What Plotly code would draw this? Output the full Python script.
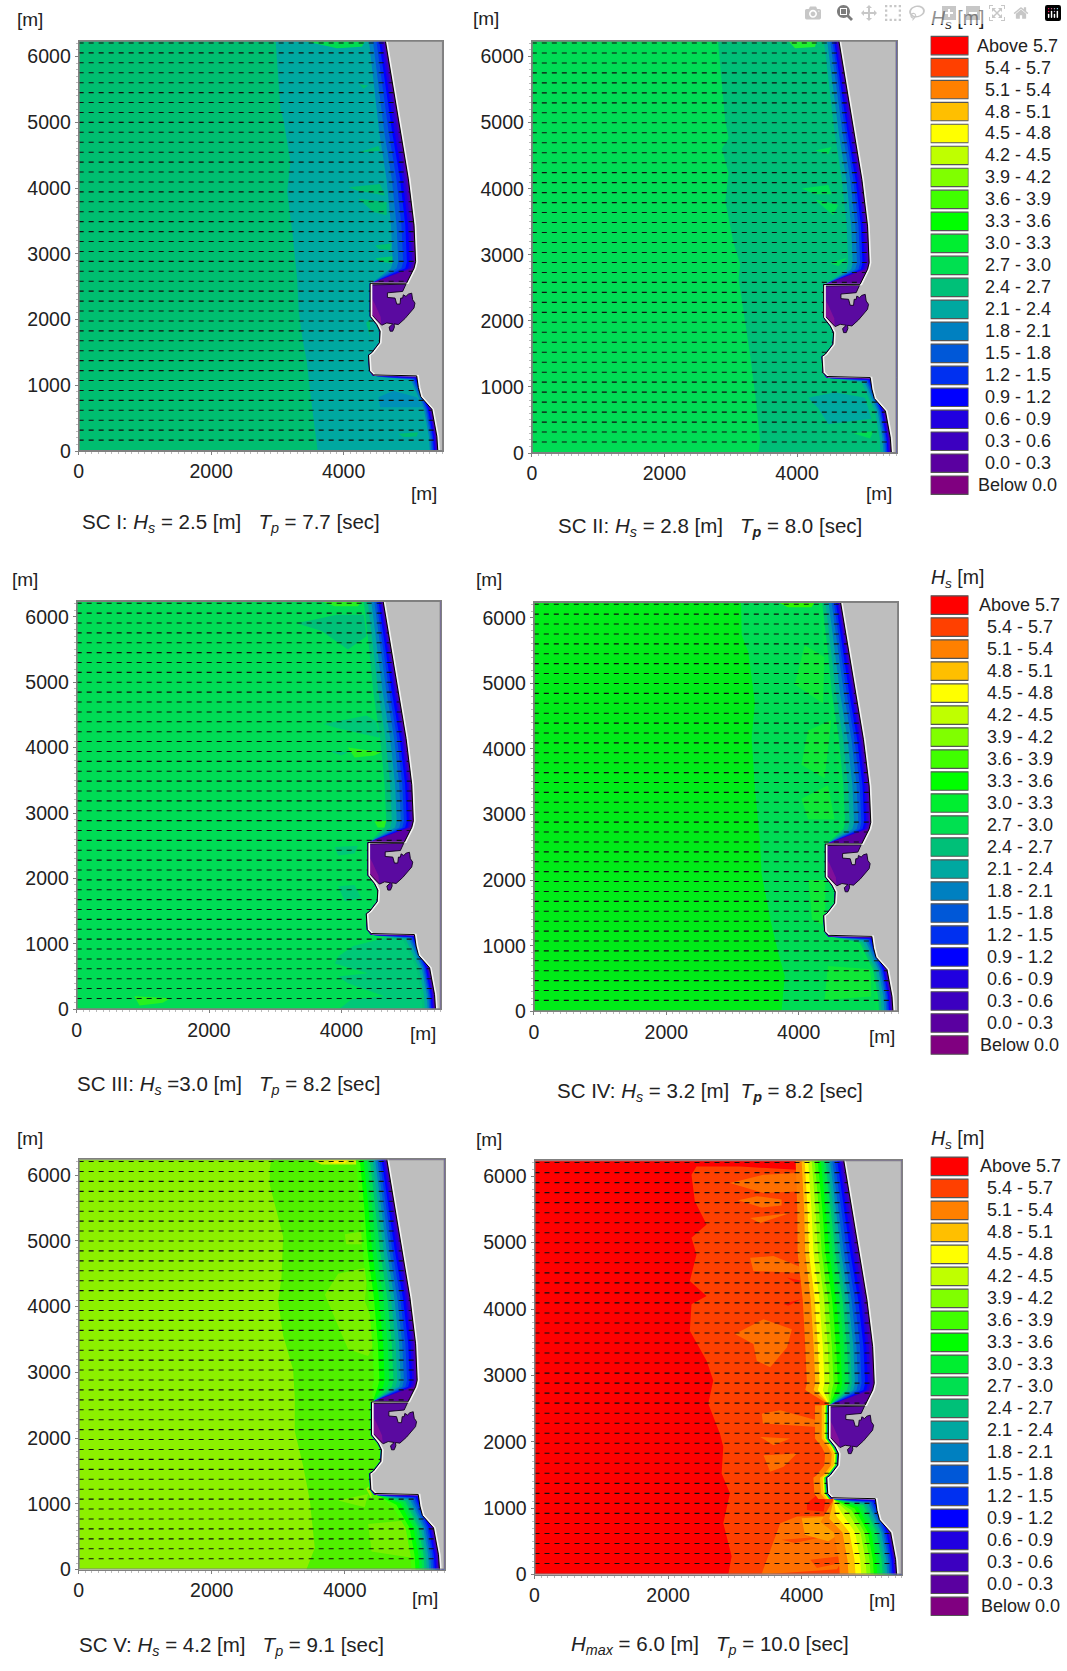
import numpy as np
import plotly.graph_objects as go

FIG_W, FIG_H = 1067, 1671
FONT = "Liberation Sans"
TEXT = "#222222"
X_MAX, Y_MAX = 5500, 6240

# ---- legend ----
LEGEND_LABELS = ["Above 5.7", "5.4 - 5.7", "5.1 - 5.4", "4.8 - 5.1", "4.5 - 4.8", "4.2 - 4.5", "3.9 - 4.2",
                 "3.6 - 3.9", "3.3 - 3.6", "3.0 - 3.3", "2.7 - 3.0", "2.4 - 2.7", "2.1 - 2.4", "1.8 - 2.1",
                 "1.5 - 1.8", "1.2 - 1.5", "0.9 - 1.2", "0.6 - 0.9", "0.3 - 0.6", "0.0 - 0.3", "Below 0.0"]
LEGEND_COLORS = ["#FF0000", "#FF4000", "#FF8000", "#FFBF00", "#FFFF00", "#BFFF00", "#80FF00",
                 "#40FF00", "#00FF00", "#00EE30", "#00E050", "#00C078", "#00A8A0", "#0080C0",
                 "#0058D8", "#0030F0", "#0000FF", "#2000E0", "#3C00C0", "#5A00A0", "#800080"]
COL = dict(zip(LEGEND_LABELS, LEGEND_COLORS))

# ---- coast (shared geometry, metres) ----
COAST_X = [4630, 4752, 4852, 4977, 5063, 5087, 5063, 4950, 4401, 4401, 4501, 4551, 4541, 4426, 4376, 4391, 4451,
           5103, 5128, 5165, 5332, 5407, 5422]
COAST_Y = [6240, 5498, 4848, 4139, 3434, 2880, 2780, 2552, 2550, 2049, 1923, 1822, 1646, 1495, 1460, 1218, 1158,
           1143, 967, 825, 635, 225, 0]
HARBOUR_X = [4421, 4942, 4892, 4662, 4662, 4777, 4802, 4852, 4862, 4892, 4902, 4942, 4977, 5028, 5043, 5078, 5063,
             5003, 4927, 4827, 4762, 4767, 4742, 4702, 4687, 4742, 4652, 4576, 4421]
HARBOUR_Y = [2527, 2537, 2427, 2406, 2336, 2326, 2235, 2235, 2326, 2326, 2376, 2351, 2386, 2401, 2301, 2250, 2175,
             2099, 2014, 1923, 1933, 1883, 1822, 1822, 1883, 1933, 1948, 1913, 2074]
HARBOUR_DEEP_X = [4421, 4421, 4570, 4560, 4470]
HARBOUR_DEEP_Y = [2330, 2074, 1915, 2040, 2240]
ROW_Y = [166 + 151 * i for i in range(41)]
NORTH_Y = [6240, 5498, 4848, 4139, 3434, 2880]
NORTH_SCALE = [0.75, 0.85, 0.95, 1.0, 1.05, 1.05]
SIDE_X = [4401, 4401, 4501, 4551, 4541, 4426, 4376, 4391, 4451]
SIDE_Y = [2550, 2049, 1923, 1822, 1646, 1495, 1460, 1218, 1140]
SOUTH_Y = [635, 225, 0]

# ---- SC I ----
SC1_BASE = "#00BE70"
SC1_ZONE_COLOR = "#00A8A0"
SC1_ZONE_X = [2973, 3020, 3048, 3098, 3198, 3148, 3223, 3298, 3323, 3380, 3443, 3500, 3608]
SC1_ZONE_Y = [6240, 5500, 5200, 5000, 4400, 3950, 3350, 2628, 2125, 1700, 1370, 860, 0]
SC1_PATCHES = [
    ("#00BE70", [4075, 4551, 4626, 4200], [4012, 4062, 3886, 3962]),
    ("#00BE70", [4225, 4526, 4551], [4540, 4640, 4565]),
    ("#00BE70", [4225, 4651, 4651, 4451], [3836, 3786, 3584, 3634]),
    ("#00BE70", [4476, 4726, 4701, 4526], [3131, 3157, 3056, 3071]),
    ("#00C868", [4476, 4827, 4751, 4551], [2930, 2970, 2855, 2880]),
    ("#00DC50", [3400, 4325, 4275, 3900], [6235, 6235, 6150, 6125]),
    ("#00BE70", [4240, 4370, 4300], [5580, 5560, 5510]),
    ("#0090B8", [4526, 4752, 5102, 5203, 4551], [816, 917, 816, 665, 665]),
    ("#00BE70", [4827, 5128, 5102, 4902], [262, 287, 222, 212]),
    ("#00BE70", [4340, 4400, 4400], [1950, 1750, 2000]),
]
SC1_BAND_LABELS = ["1.8 - 2.1", "1.5 - 1.8", "1.2 - 1.5", "0.9 - 1.2", "0.6 - 0.9", "0.3 - 0.6", "0.0 - 0.3"]
SC1_NORTH = [330, 250, 180, 125, 85, 50, 22]
SC1_SIDE = [8, 6, 5, 4, 3, 2, 1]
SC1_SOUTH = [120, 95, 75, 58, 42, 28, 12]

# ---- SC II ----
SC2_BASE = "#00DC55"
SC2_ZONE_COLOR = "#00BE78"
SC2_ZONE_X = [2807, 2867, 2917, 2967, 2867, 2967, 2917, 3043, 3143, 3118, 3218, 3293, 3368, 3443, 3418]
SC2_ZONE_Y = [6240, 5561, 5030, 4765, 4605, 4234, 3810, 3173, 2855, 2642, 2006, 1475, 891, 202, 0]
SC2_PATCHES = [
    ("#00DC55", [4070, 4471, 4521, 4270], [4003, 4056, 3916, 3916]),
    ("#00DC55", [4270, 4521, 4471], [4579, 4632, 4526]),
    ("#00DC55", [4270, 4621, 4546, 4421], [3836, 3757, 3597, 3703]),
    ("#00DC55", [4496, 4747, 4621], [2881, 2950, 2828]),
    ("#20F030", [3870, 4296, 4270, 3970], [6235, 6235, 6144, 6128]),
    ("#00A8A0", [4170, 4571, 5022, 5122, 4471, 4320], [838, 918, 838, 520, 440, 679]),
    ("#00DC55", [4350, 4400, 4400], [1400, 1150, 1500]),
    ("#00DC55", [4850, 5150, 5100], [300, 330, 220]),
]
SC2_BAND_LABELS = ["2.1 - 2.4", "1.8 - 2.1", "1.5 - 1.8", "1.2 - 1.5", "0.9 - 1.2", "0.6 - 0.9", "0.3 - 0.6", "0.0 - 0.3"]
SC2_NORTH = [300, 235, 175, 130, 95, 65, 40, 18]
SC2_SIDE = [10, 8, 6, 5, 4, 3, 2, 1]
SC2_SOUTH = [160, 120, 95, 75, 58, 42, 28, 12]

# ---- SC III ----
SC3_BASE = "#00DC55"
SC3_ZONE_COLOR = None
SC3_ZONE_X = []
SC3_ZONE_Y = []
SC3_PATCHES = [
    ("#00C078", [3328, 3930, 4340, 4380, 4100, 3900, 3700], [5899, 6030, 6030, 5700, 5500, 5640, 5780]),
    ("#00C878", [3729, 4380, 4530, 4580, 3930], [4359, 4490, 4400, 4150, 4300]),
    ("#00C878", [3955, 4180, 4700, 5100, 5400, 3960, 4150, 4650, 4100, 3950, 4400, 3900],
     [810, 966, 1100, 1100, 0, 0, 150, 200, 400, 500, 550, 700]),
    ("#00C878", [3800, 4100, 4000], [3950, 3930, 3880]),
    ("#00C878", [3950, 4200, 4300, 4050], [1880, 1900, 1700, 1650]),
    ("#00C878", [3900, 4250, 4200, 3950], [2480, 2500, 2380, 2350]),
    ("#28F020", [3700, 4300, 4250, 3900], [6235, 6235, 6160, 6160]),
    ("#28F020", [872, 1420, 1300, 950], [200, 170, 100, 60]),
    ("#28F020", [4100, 4600, 4500, 4200], [4000, 3930, 3880, 3850]),
    ("#28F020", [4500, 4820, 4780, 4550], [2870, 2890, 2780, 2780]),
]
SC3_BAND_LABELS = ["2.4 - 2.7", "2.1 - 2.4", "1.8 - 2.1", "1.5 - 1.8", "1.2 - 1.5", "0.9 - 1.2", "0.6 - 0.9", "0.3 - 0.6", "0.0 - 0.3"]
SC3_NORTH = [390, 310, 240, 180, 135, 95, 65, 40, 18]
SC3_SIDE = [10, 8, 7, 6, 5, 4, 3, 2, 1]
SC3_SOUTH = [200, 160, 120, 95, 75, 58, 42, 28, 12]

# ---- SC IV ----
SC4_BASE = "#00EC18"
SC4_ZONE_COLOR = "#00DC55"
SC4_ZONE_X = [3128, 3138, 3238, 3338, 3288, 3338, 3413, 3438, 3589, 3689, 3789, 3739]
SC4_ZONE_Y = [6240, 5736, 5476, 4696, 4175, 3396, 2616, 2096, 1316, 900, 536, 0]
SC4_PATCHES = [
    ("#10E838", [4090, 4391, 4366, 3940], [5580, 5398, 4696, 4982]),
    ("#10E838", [4140, 4491, 4391, 4040], [4280, 4436, 3552, 3760]),
    ("#10E838", [4040, 4441, 4541, 4140], [3240, 3448, 2928, 2928]),
    ("#10E838", [4441, 5093, 5093, 4391], [692, 640, 224, 172]),
    ("#30F800", [3689, 4241, 4191, 3839], [6235, 6235, 6162, 6162]),
    ("#10E838", [4150, 4400, 4400, 4200], [2000, 2000, 1300, 1400]),
]
SC4_BAND_LABELS = ["2.7 - 3.0", "2.4 - 2.7", "2.1 - 2.4", "1.8 - 2.1", "1.5 - 1.8", "1.2 - 1.5", "0.9 - 1.2", "0.6 - 0.9", "0.3 - 0.6", "0.0 - 0.3"]
SC4_NORTH = [440, 370, 305, 240, 180, 135, 95, 65, 40, 18]
SC4_SIDE = [12, 10, 8, 7, 6, 5, 4, 3, 2, 1]
SC4_SOUTH = [260, 210, 170, 130, 100, 78, 58, 42, 28, 12]

# ---- SC V ----
SC5_BASE = "#8CF000"
SC5_ZONE_COLOR = "#50F000"
SC5_ZONE_X = [2897, 2872, 2872, 3073, 3048, 2998, 3073, 3223, 3248, 3248, 3373, 3473, 3549, 3423]
SC5_ZONE_Y = [6240, 6096, 5850, 5065, 4440, 4080, 3560, 3040, 2620, 2100, 1580, 1060, 328, 0]
SC5_PATCHES = [
    ("#78F000", [3900, 4350, 4300, 4500, 4350, 4050, 3700], [4500, 4600, 4080, 3560, 3250, 3350, 4180]),
    ("#78F000", [4000, 4300, 4250, 4020], [5100, 5150, 4950, 4950]),
    ("#78F000", [4351, 4902, 5053, 4401], [693, 745, 172, 276]),
    ("#78F000", [3900, 4350, 4300], [1050, 1150, 950]),
    ("#C8F000", [3500, 4320, 4300, 3650], [6235, 6235, 6160, 6160]),
    ("#FFF000", [3750, 4050, 4000, 3800], [6235, 6235, 6180, 6180]),
    ("#A0F000", [4320, 4400, 4400], [1230, 1300, 1080]),
]
SC5_BAND_LABELS = ["3.6 - 3.9", "3.3 - 3.6", "3.0 - 3.3", "2.7 - 3.0", "2.4 - 2.7", "2.1 - 2.4", "1.8 - 2.1",
                   "1.5 - 1.8", "1.2 - 1.5", "0.9 - 1.2", "0.6 - 0.9", "0.3 - 0.6", "0.0 - 0.3"]
SC5_NORTH = [620, 540, 465, 400, 340, 285, 235, 190, 145, 105, 70, 42, 18]
SC5_SIDE = [25, 20, 16, 13, 11, 9, 8, 7, 6, 4, 3, 2, 1]
SC5_SOUTH = [420, 360, 300, 260, 225, 190, 155, 125, 95, 70, 48, 30, 12]

# ---- Hmax ----
SC6_BASE = "#FF0000"
SC6_ZONE_COLOR = "#FF4000"
SC6_ZONE_X = [3930, 3930, 3078, 2426, 2351, 2401, 2577, 2351, 2426, 2326, 2577, 2351, 2326, 2577, 2677, 2602, 2777,
              2827, 2802, 2927, 2827, 2952, 2902]
SC6_ZONE_Y = [6240, 6097, 6147, 6147, 6022, 5622, 5272, 5072, 4822, 4422, 4197, 4072, 3672, 3222, 2922, 2572, 2122,
              1924, 1524, 1224, 774, 274, 0]
SC6_PATCHES = [
    ("#FF7000", [2927, 3429, 3930, 3930, 3429], [5897, 6022, 6047, 5772, 5747]),
    ("#FF7000", [3050, 3330, 3700, 3700, 3400], [5640, 5700, 5650, 5560, 5530]),
    ("#FF7000", [3228, 3830, 3379], [5372, 5447, 5297]),
    ("#FF7000", [3228, 3579, 4130, 3930, 3278], [4772, 4797, 4572, 4547, 4572]),
    ("#FF7000", [3002, 3429, 3855, 3780, 3529, 3329, 3278], [3622, 3847, 3697, 3422, 3122, 3222, 3472]),
    ("#FF7000", [3404, 3680, 4230, 4230, 3420], [2424, 2474, 2324, 2224, 2274]),
    ("#FF7000", [3379, 3830, 3579], [2074, 2049, 1949]),
    ("#FF7000", [3429, 3930, 3730, 3529], [1799, 1824, 1624, 1549]),
    ("#FF7000", [3680, 3930, 4830, 4930, 4530, 3400, 3420], [774, 874, 899, 774, 80, 0, 60]),
    ("#FF1800", [4080, 4230, 4356, 4331, 4080], [1074, 1199, 1124, 949, 974]),
    ("#FF4800", [4130, 4581, 4581, 4230], [224, 274, 174, 99]),
    ("#FF4800", [3700, 4350, 3900], [524, 574, 474]),
    ("#FF1800", [3780, 4030, 3900], [4475, 4420, 4400]),
    ("#FF1800", [3730, 4000, 3800], [4075, 4150, 4050]),
    ("#FFA000", [4000, 4500, 4700, 4400, 4050], [850, 880, 700, 500, 600]),
]
SC6_BAND_LABELS = ["5.1 - 5.4", "4.8 - 5.1", "4.5 - 4.8", "4.2 - 4.5", "3.9 - 4.2", "3.6 - 3.9", "3.3 - 3.6", "3.0 - 3.3",
                   "2.7 - 3.0", "2.4 - 2.7", "2.1 - 2.4", "1.8 - 2.1", "1.5 - 1.8", "1.2 - 1.5", "0.9 - 1.2",
                   "0.6 - 0.9", "0.3 - 0.6", "0.0 - 0.3"]
SC6_NORTH = [960, 840, 780, 710, 640, 580, 520, 460, 410, 365, 320, 275, 230, 180, 130, 90, 55, 22]
SC6_SIDE = [200, 100, 60, 50, 42, 36, 30, 25, 21, 18, 15, 12, 10, 8, 6, 4, 3, 2]
SC6_SOUTH = [850, 720, 615, 530, 450, 390, 340, 290, 250, 210, 175, 140, 110, 85, 60, 40, 25, 10]

CAPTIONS = [
    "SC I: <i>H<sub>s</sub></i> = 2.5 [m]\u00a0\u00a0\u00a0<i>T<sub>p</sub></i> = 7.7 [sec]",
    "SC II: <i>H<sub>s</sub></i> = 2.8 [m]\u00a0\u00a0\u00a0<i>T<sub><b>p</b></sub></i> = 8.0 [sec]",
    "SC III: <i>H<sub>s</sub></i> =3.0 [m]\u00a0\u00a0\u00a0<i>T<sub>p</sub></i> = 8.2 [sec]",
    "SC IV: <i>H<sub>s</sub></i> = 3.2 [m]\u00a0\u00a0<i>T<sub><b>p</b></sub></i> = 8.2 [sec]",
    "SC V: <i>H<sub>s</sub></i> = 4.2 [m]\u00a0\u00a0\u00a0<i>T<sub>p</sub></i> = 9.1 [sec]",
    "<i>H<sub>max</sub></i> = 6.0 [m]\u00a0\u00a0\u00a0<i>T<sub>p</sub></i> = 10.0 [sec]",
]

# ---- page layout (pixels) ----
PANEL_BOX = [(74, 440, 41, 454), (529.3, 895.7, 41, 456), (72, 437.7, 605, 1016),
             (531.3, 897.3, 606, 1018), (74, 441.7, 1167, 1580), (532, 901, 1168, 1585)]
CAPTION_POS = [(227, 526), (708, 530), (225, 1092), (708, 1099), (228, 1657), (708, 1656)]
TOP_UNIT_POS = [(25, 20), (483, 19), (20, 583), (486, 583), (25, 1146), (486, 1147)]
RIGHT_UNIT_POS = [(421, 497), (878, 497), (420, 1040), (881, 1043), (422, 1609), (881, 1611)]
LEG_BOX = [(34.8, 499.5), (598, 1063), (1163, 1628)]
LEG_TITLE_Y = [20, 582, 1147]
LEG_LABEL_X = [1017.5, 1019.5, 1020]

PANELS = [
    (SC1_BASE, SC1_ZONE_COLOR, SC1_ZONE_X, SC1_ZONE_Y, SC1_PATCHES, SC1_BAND_LABELS, SC1_NORTH, SC1_SIDE, SC1_SOUTH),
    (SC2_BASE, SC2_ZONE_COLOR, SC2_ZONE_X, SC2_ZONE_Y, SC2_PATCHES, SC2_BAND_LABELS, SC2_NORTH, SC2_SIDE, SC2_SOUTH),
    (SC3_BASE, SC3_ZONE_COLOR, SC3_ZONE_X, SC3_ZONE_Y, SC3_PATCHES, SC3_BAND_LABELS, SC3_NORTH, SC3_SIDE, SC3_SOUTH),
    (SC4_BASE, SC4_ZONE_COLOR, SC4_ZONE_X, SC4_ZONE_Y, SC4_PATCHES, SC4_BAND_LABELS, SC4_NORTH, SC4_SIDE, SC4_SOUTH),
    (SC5_BASE, SC5_ZONE_COLOR, SC5_ZONE_X, SC5_ZONE_Y, SC5_PATCHES, SC5_BAND_LABELS, SC5_NORTH, SC5_SIDE, SC5_SOUTH),
    (SC6_BASE, SC6_ZONE_COLOR, SC6_ZONE_X, SC6_ZONE_Y, SC6_PATCHES, SC6_BAND_LABELS, SC6_NORTH, SC6_SIDE, SC6_SOUTH),
]

cy = np.array(COAST_Y[::-1], float)
cx = np.array(COAST_X[::-1], float)


def coast_at(y):
    return float(np.interp(y, cy, cx))


def poly(fig, k, color, xs, ys):
    fig.add_trace(go.Scatter(x=xs, y=ys, mode="lines", fill="toself", fillcolor=color,
                             line=dict(width=0, color=color), hoverinfo="skip", showlegend=False,
                             xaxis=f"x{k}", yaxis=f"y{k}"))


def line(fig, k, xs, ys, color, width, dash="solid"):
    fig.add_trace(go.Scatter(x=xs, y=ys, mode="lines", line=dict(color=color, width=width, dash=dash),
                             hoverinfo="skip", showlegend=False, xaxis=f"x{k}", yaxis=f"y{k}"))


def band_path(n, sd, so):
    xs, ys = [], []
    for y, s in zip(NORTH_Y, NORTH_SCALE):
        xs.append(coast_at(y) - n * s)
        ys.append(y)
    xs += [5063 - n * 1.05, 4420, X_MAX, X_MAX, None]
    ys += [2780, 2552, 2552, Y_MAX, None]
    xs += [x - sd for x in SIDE_X] + [X_MAX, X_MAX, None]
    ys += SIDE_Y + [1140, 2550, None]
    xs += [4480, 5135 - so]
    ys += [1135, 1130 - so * 0.4]
    for y in SOUTH_Y:
        xs.append(coast_at(y) - so)
        ys.append(y)
    xs += [X_MAX, X_MAX]
    ys += [0, 1135]
    return xs, ys


fig = go.Figure()
layout = {}
annots = []


def px_x(v):
    return v / FIG_W


def px_y(v):
    return 1 - v / FIG_H


def note(text, x, y, size=18, anchor="center"):
    annots.append(dict(text=text, xref="paper", yref="paper", x=px_x(x), y=px_y(y), xanchor=anchor, yanchor="middle",
                       showarrow=False, font=dict(family=FONT, size=size, color=TEXT)))


for i, p in enumerate(PANELS):
    k = i + 1
    base, zcol, zx, zy, patches, labels, north, side, south = p
    poly(fig, k, base, [0, X_MAX, X_MAX, 0], [0, 0, Y_MAX, Y_MAX])
    if zcol:
        poly(fig, k, zcol, zx + [X_MAX, X_MAX], zy + [0, Y_MAX])
    for col, xs, ys in patches:
        poly(fig, k, col, xs, ys)
    for lab, n, sd, so in zip(labels, north, side, south):
        xs, ys = band_path(n, sd, so)
        poly(fig, k, COL[lab], xs, ys)
    poly(fig, k, "#BEBEBE", COAST_X + [X_MAX, X_MAX], COAST_Y + [0, Y_MAX])
    poly(fig, k, "#5A0AA0", HARBOUR_X, HARBOUR_Y)
    poly(fig, k, "#80109A", HARBOUR_DEEP_X, HARBOUR_DEEP_Y)
    line(fig, k, HARBOUR_X + HARBOUR_X[:1], HARBOUR_Y + HARBOUR_Y[:1], "#10001E", 0.9)
    line(fig, k, [x + 22 for x in COAST_X], COAST_Y, "#F4F4F4", 1.5)
    line(fig, k, [4411, 4411], [2530, 2060], "#FFFFFF", 1.2)
    line(fig, k, COAST_X, COAST_Y, "#000000", 1)
    rx, ry = [], []
    for y in ROW_Y:
        rx += [0, coast_at(y), None]
        ry += [y, y, None]
    line(fig, k, rx, ry, "#111111", 1.1, "5px,5px")
    line(fig, k, [0, X_MAX, X_MAX, 0, 0], [0, 0, Y_MAX, Y_MAX, 0], "#808080", 2)

    l, r, t, b = PANEL_BOX[i]
    suffix = "" if k == 1 else str(k)
    layout[f"xaxis{suffix}"] = dict(
        domain=[l / FIG_W, r / FIG_W], range=[0, X_MAX], anchor=f"y{suffix}", dtick=2000, tick0=0,
        ticks="outside", ticklen=3, tickcolor="#808080", showgrid=False, zeroline=False,
        showline=True, mirror=True, linecolor="#808080", linewidth=1,
        tickfont=dict(family=FONT, size=19.5, color=TEXT),
        minor=dict(dtick=100, ticks="outside", ticklen=2, tickcolor="#BBBBBB", showgrid=False))
    layout[f"yaxis{suffix}"] = dict(
        domain=[1 - b / FIG_H, 1 - t / FIG_H], range=[0, Y_MAX], anchor=f"x{suffix}", dtick=1000, tick0=0,
        ticks="outside", ticklen=3, tickcolor="#808080", showgrid=False, zeroline=False,
        showline=True, mirror=True, linecolor="#808080", linewidth=1,
        tickfont=dict(family=FONT, size=19.5, color=TEXT),
        minor=dict(dtick=100, ticks="outside", ticklen=2, tickcolor="#BBBBBB", showgrid=False))
    note(CAPTIONS[i], CAPTION_POS[i][0], CAPTION_POS[i][1], 20.5)
    note("[m]", TOP_UNIT_POS[i][0], TOP_UNIT_POS[i][1], 19)
    note("[m]", RIGHT_UNIT_POS[i][0], RIGHT_UNIT_POS[i][1], 19)

for j in range(3):
    k = 7 + j
    top, bottom = LEG_BOX[j]
    fig.add_trace(go.Bar(x=[1] * len(LEGEND_LABELS), y=list(range(len(LEGEND_LABELS))), orientation="h",
                         marker=dict(color=LEGEND_COLORS, line=dict(color="#555555", width=1.2)),
                         width=0.84, hoverinfo="skip", showlegend=False, xaxis=f"x{k}", yaxis=f"y{k}"))
    layout[f"xaxis{k}"] = dict(domain=[930 / FIG_W, 968 / FIG_W], range=[0, 1], visible=False, anchor=f"y{k}")
    layout[f"yaxis{k}"] = dict(domain=[1 - bottom / FIG_H, 1 - top / FIG_H], range=[20.5, -0.5], visible=False,
                               anchor=f"x{k}")
    note("<i>H<sub>s</sub></i> [m]", 928, LEG_TITLE_Y[j], 19.5, "left")
    pitch = (bottom - top) / len(LEGEND_LABELS)
    for n, lab in enumerate(LEGEND_LABELS):
        note(lab, LEG_LABEL_X[j], top + pitch * (n + 0.5), 18)

fig.update_layout(width=FIG_W, height=FIG_H, margin=dict(l=0, r=0, t=0, b=0), paper_bgcolor="white",
                  plot_bgcolor="white", showlegend=False, annotations=annots, **layout)
fig.write_html("out.html", post_script="document.body.style.margin='0';document.body.style.overflow='hidden';")
